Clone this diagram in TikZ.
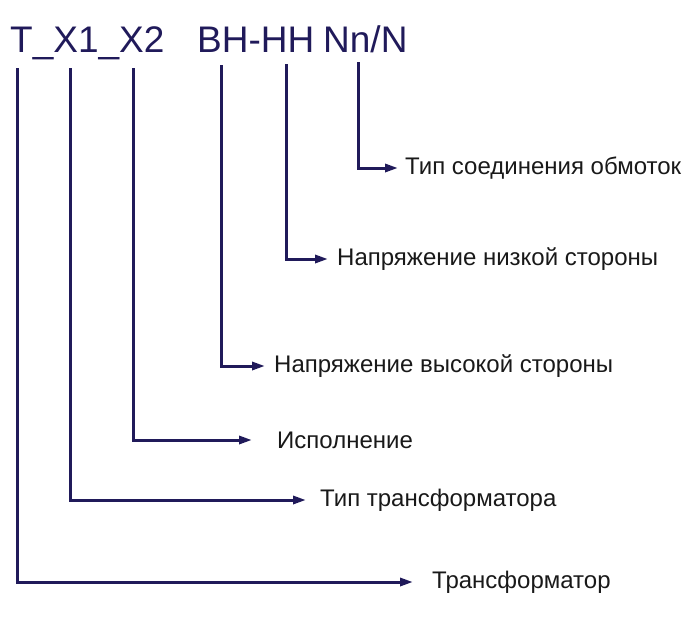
\documentclass[tikz,border=0pt]{standalone}
\usepackage{fontspec}
\setmainfont{Liberation Sans}
\usetikzlibrary{arrows.meta, positioning}
\definecolor{navy}{RGB}{32,26,90}

\begin{document}
\begin{tikzpicture}[x=1pt, y=-1pt,
            wire/.style={draw=navy, line width=3pt, -{Triangle[length=13pt, width=8pt]}},
            lbl/.style={anchor=west, inner sep=0pt, text=black!90, font=\fontsize{24}{28}\selectfont},
            code/.style={anchor=base west, inner sep=0pt, text=navy, font=\fontsize{37}{44}\selectfont}]
            \useasboundingbox (0,0) rectangle (692,624);
            % code line
            \node[code] (cT) at (10,52) {T\_X1\_X2};
            \node[code] (cV) at (197,52) {BH-HH};
            \node[code] (cN) at (323,52) {Nn/N};
            % starts of the leads
            \coordinate (s0) at (17,68);
            \coordinate (s1) at (70,68);
            \coordinate (s2) at (133,68);
            \coordinate (s3) at (221,65);
            \coordinate (s4) at (286,64);
            \coordinate (s5) at (358,62);
            % labels
            \node[lbl] (l0) at (432,582) {Трансформатор};
            \node[lbl] (l1) at (320,500) {Тип трансформатора};
            \node[lbl] (l2) at (277,440) {Исполнение};
            \node[lbl] (l3) at (274,366) {Напряжение высокой стороны};
            \node[lbl] (l4) at (337,259) {Напряжение низкой стороны};
            \node[lbl] (l5) at (405,168) {Тип соединения обмоток};
            % leads
            \draw[wire, shorten >=19pt] (s0) |- (l0);
            \draw[wire, shorten >=14pt] (s1) |- (l1);
            \draw[wire, shorten >=25pt] (s2) |- (l2);
            \draw[wire, shorten >=9pt] (s3) |- (l3);
            \draw[wire, shorten >=9pt] (s4) |- (l4);
            \draw[wire, shorten >=7pt] (s5) |- (l5);
\end{tikzpicture}
\end{document}
